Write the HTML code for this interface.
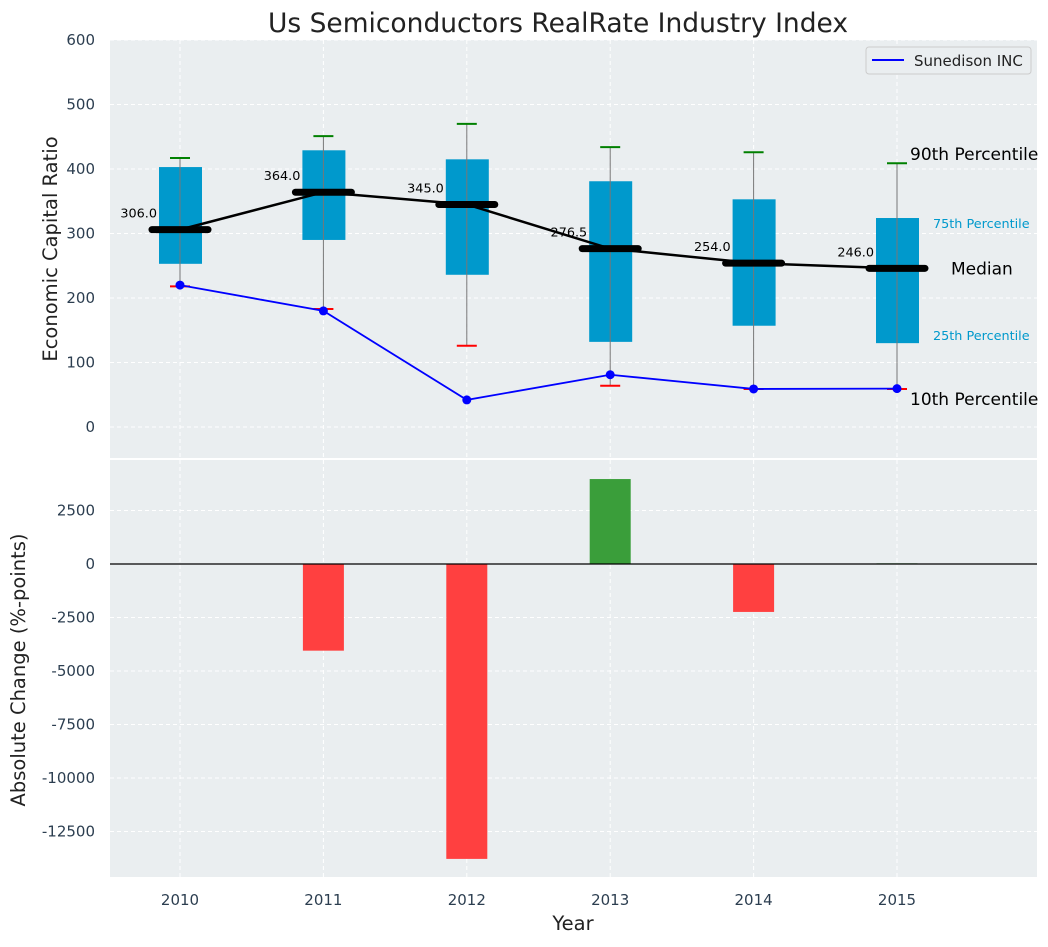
<!DOCTYPE html>
<html><head><meta charset="utf-8"><style>
body{margin:0;background:#fff;}
svg text{font-family:"DejaVu Sans","Liberation Sans",sans-serif;}
</style></head><body>
<svg id="c" width="1048" height="942" xmlns="http://www.w3.org/2000/svg"></svg>
<script>
const years=["2010","2011","2012","2013","2014","2015"];
const q1=[253,290,236,132,157,130];
const q3=[403,429,415,381,353,324];
const med=[306,364,345,276.5,254,246];
const p90=[417,451,470,434,426,409];
const p10=[218,183,126,64,59,59];
const sun=[220,180,42,81,59,59.5];
const chg=[0,-4050,-13780,3970,-2240,30];
const topTicks=[0,100,200,300,400,500,600];
const botTicks=[2500,0,-2500,-5000,-7500,-10000,-12500];

const NS="http://www.w3.org/2000/svg";
const svg=document.getElementById('c');
function el(t,a,txt){const e=document.createElementNS(NS,t);for(const k in a)e.setAttribute(k,a[k]);if(txt!==undefined)e.textContent=txt;svg.appendChild(e);return e;}
const X=i=>180+i*143.4;
const Y1=v=>427-v*0.645;
const Y2=v=>564-v*0.0214;
const L=110,R=1037;

let e;
e=el('rect',{x:L,y:40,width:R-L,height:418,fill:'#eaeef0'});


e=el('rect',{x:L,y:460,width:R-L,height:417,fill:'#eaeef0'});



topTicks.forEach(t=>{
  const y=Y1(t);
  el('line',{x1:L,x2:R,y1:y,y2:y,stroke:'#fff','stroke-dasharray':'4,3','stroke-width':1});
  e=el('text',{x:95,y:y+5,'text-anchor':'end','font-size':15,fill:'#2c3e50'},t);
  
  
});
botTicks.forEach(t=>{
  const y=Y2(t);
  el('line',{x1:L,x2:R,y1:y,y2:y,stroke:'#fff','stroke-dasharray':'4,3','stroke-width':1});
  e=el('text',{x:95,y:y+5,'text-anchor':'end','font-size':15,fill:'#2c3e50'},t);
  
  
});
years.forEach((yr,i)=>{
  const x=X(i);
  el('line',{x1:x,x2:x,y1:40,y2:458,stroke:'#fff','stroke-dasharray':'4,3'});
  el('line',{x1:x,x2:x,y1:460,y2:877,stroke:'#fff','stroke-dasharray':'4,3'});
  e=el('text',{x:x,y:905,'text-anchor':'middle','font-size':15,fill:'#2c3e50'},yr);
  
  
});

years.forEach((yr,i)=>{
  const x=X(i);
  e=el('rect',{x:x-21,y:Y1(q3[i]),width:43,height:Y1(q1[i])-Y1(q3[i]),fill:'#0099cc'});
  
  
  e=el('line',{x1:x,x2:x,y1:Y1(p10[i]),y2:Y1(p90[i]),stroke:'#777','stroke-width':1});
  
  
  e=el('line',{x1:x-10,x2:x+10,y1:Y1(p90[i]),y2:Y1(p90[i]),stroke:'green','stroke-width':2});
  
  
  e=el('line',{x1:x-10,x2:x+10,y1:Y1(p10[i]),y2:Y1(p10[i]),stroke:'red','stroke-width':2});
  
  
});
e=el('polyline',{points:med.map((v,i)=>X(i)+','+Y1(v)).join(' '),fill:'none',stroke:'#000','stroke-width':2.5});


years.forEach((yr,i)=>{
  const x=X(i),y=Y1(med[i]);
  e=el('line',{x1:x-28,x2:x+28,y1:y,y2:y,stroke:'#000','stroke-width':7,'stroke-linecap':'round'});
  
  
  e=el('text',{x:x-23,y:y-12,'text-anchor':'end','font-size':12.8,fill:'#000'},med[i].toFixed(1));
  
  
});
e=el('polyline',{points:sun.map((v,i)=>X(i)+','+Y1(v)).join(' '),fill:'none',stroke:'blue','stroke-width':1.8});


sun.forEach((v,i)=>{
  e=el('circle',{cx:X(i),cy:Y1(v),r:4.5,fill:'blue'});
  
  
});
const lx=X(5);
[["90th Percentile",lx+13,Y1(p90[5])-3,17,'#000'],["75th Percentile",lx+36,Y1(q3[5])+10,12.8,'#0099cc'],["Median",lx+54,Y1(med[5])+6,17,'#000'],["25th Percentile",lx+36,Y1(q1[5])-3,12.8,'#0099cc'],["10th Percentile",lx+13,Y1(p10[5])+16,17,'#000']].forEach(a=>{
  e=el('text',{x:a[1],y:a[2],'font-size':a[3],fill:a[4]},a[0]);
  
  
});
e=el('rect',{x:866,y:47,width:165,height:27,fill:'#eaeef0',stroke:'#ccc',rx:3});


el('line',{x1:872,x2:904,y1:60,y2:60,stroke:'blue','stroke-width':2});
e=el('text',{x:914,y:66,'font-size':15,fill:'#222'},'Sunedison INC');



chg.forEach((v,i)=>{
  const y0=Y2(0),y=Y2(v);
  e=el('rect',{x:X(i)-20.5,y:Math.min(y0,y),width:41,height:Math.abs(y-y0),fill:v>=0?'#3a9e3a':'#ff4040'});
  
  
});
el('line',{x1:L,x2:R,y1:Y2(0),y2:Y2(0),stroke:'#000','stroke-width':1.2});

e=el('text',{x:558,y:32,'text-anchor':'middle','font-size':26.5,fill:'#222'},'Us Semiconductors RealRate Industry Index');


e=el('text',{x:0,y:0,'text-anchor':'middle','font-size':19.5,fill:'#222',transform:'translate(57,249) rotate(-90)'},'Economic Capital Ratio');


e=el('text',{x:0,y:0,'text-anchor':'middle','font-size':19.5,fill:'#222',transform:'translate(25,670) rotate(-90)'},'Absolute Change (%-points)');


e=el('text',{x:573,y:930,'text-anchor':'middle','font-size':19.5,fill:'#222'},'Year');


</script>
</body></html>
